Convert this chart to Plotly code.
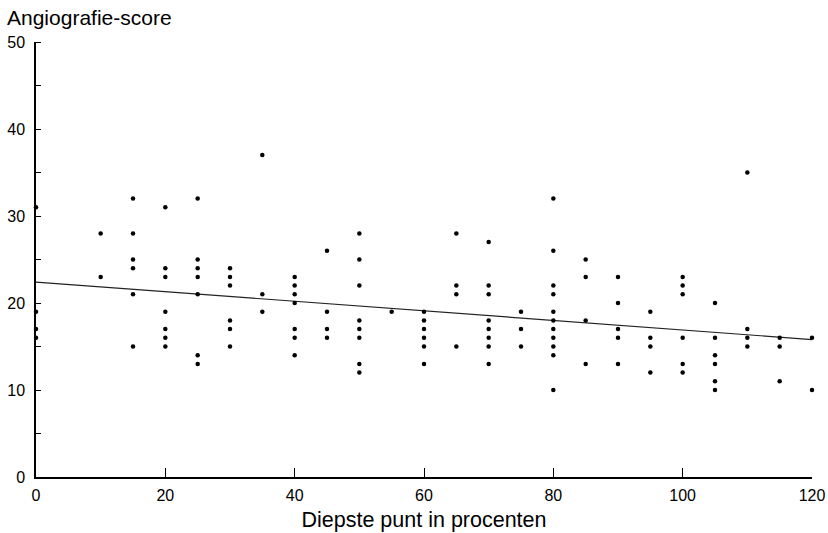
import plotly.graph_objects as go

# Data (x = depth %, y = angiography score)
x_values = (
    [0] * 4 + [10] * 2 + [15] * 6 + [20] * 7 + [25] * 7 + [30] * 6 + [35] * 3
    + [40] * 7 + [45] * 4 + [50] * 8 + [55] * 1 + [60] * 6 + [65] * 4 + [70] * 8
    + [75] * 3 + [80] * 11 + [85] * 4 + [90] * 5 + [95] * 4 + [100] * 6
    + [105] * 6 + [110] * 4 + [115] * 3 + [120] * 2
)
y_values = [
    31, 19, 17, 16,
    28, 23,
    32, 28, 25, 24, 21, 15,
    31, 24, 23, 19, 17, 16, 15,
    32, 25, 24, 23, 21, 14, 13,
    24, 23, 22, 18, 17, 15,
    37, 21, 19,
    23, 22, 21, 20, 17, 16, 14,
    26, 19, 17, 16,
    28, 25, 22, 18, 17, 16, 13, 12,
    19,
    19, 18, 17, 16, 15, 13,
    28, 22, 21, 15,
    27, 22, 21, 18, 17, 16, 15, 13,
    19, 17, 15,
    32, 26, 22, 21, 19, 18, 17, 16, 15, 14, 10,
    25, 23, 18, 13,
    23, 20, 17, 16, 13,
    19, 16, 15, 12,
    23, 22, 21, 16, 13, 12,
    20, 16, 14, 13, 11, 10,
    35, 17, 16, 15,
    16, 15, 11,
    16, 10,
]

# Regression line end points
line_x = [0, 120]
line_y = [22.4, 15.8]

x_ticks = [0, 20, 40, 60, 80, 100, 120]
y_ticks = [0, 10, 20, 30, 40, 50]

FONT = "Liberation Sans, Arial, Helvetica, sans-serif"

fig = go.Figure()
fig.add_trace(go.Scatter(
    x=line_x, y=line_y, mode="lines",
    line=dict(color="#222222", width=1.2),
    hoverinfo="skip", showlegend=False,
))
fig.add_trace(go.Scatter(
    x=x_values, y=y_values, mode="markers",
    marker=dict(color="black", size=4.5, line=dict(width=0)),
    cliponaxis=False, showlegend=False,
))

fig.update_layout(
    width=828, height=533,
    margin=dict(l=36, r=16, t=42, b=56),
    paper_bgcolor="white", plot_bgcolor="white",
    font=dict(family=FONT, color="black", size=16),
    xaxis=dict(
        range=[0, 120], tickvals=x_ticks, ticktext=[str(v) for v in x_ticks],
        automargin=False,
        showgrid=False, zeroline=False, showline=True, linecolor="black", linewidth=1.5,
        ticks="inside", ticklen=9, tickwidth=1.2, tickcolor="black",
        ticklabelstandoff=3, tickfont=dict(size=16),
        title=dict(text="Diepste punt in procenten", font=dict(size=21.5), standoff=9),
    ),
    yaxis=dict(
        range=[0, 50], tickvals=y_ticks, ticktext=[str(v) for v in y_ticks],
        automargin=False,
        showgrid=False, zeroline=False, showline=True, linecolor="black", linewidth=1.5,
        ticks="", ticklabelstandoff=6, tickfont=dict(size=16),
        minor=dict(ticks="inside", dtick=5, ticklen=5, tickcolor="black", tickwidth=1),
    ),
    annotations=[dict(
        text="Angiografie-score", xref="paper", yref="paper",
        x=-31 / 776, y=1 + 11 / 435, xanchor="left", yanchor="bottom",
        showarrow=False, font=dict(size=21, family=FONT),
    )],
)

fig.write_html(
    "out.html",
    config={"displayModeBar": False},
    post_script="document.body.style.margin='0';document.body.style.overflow='hidden';",
)
